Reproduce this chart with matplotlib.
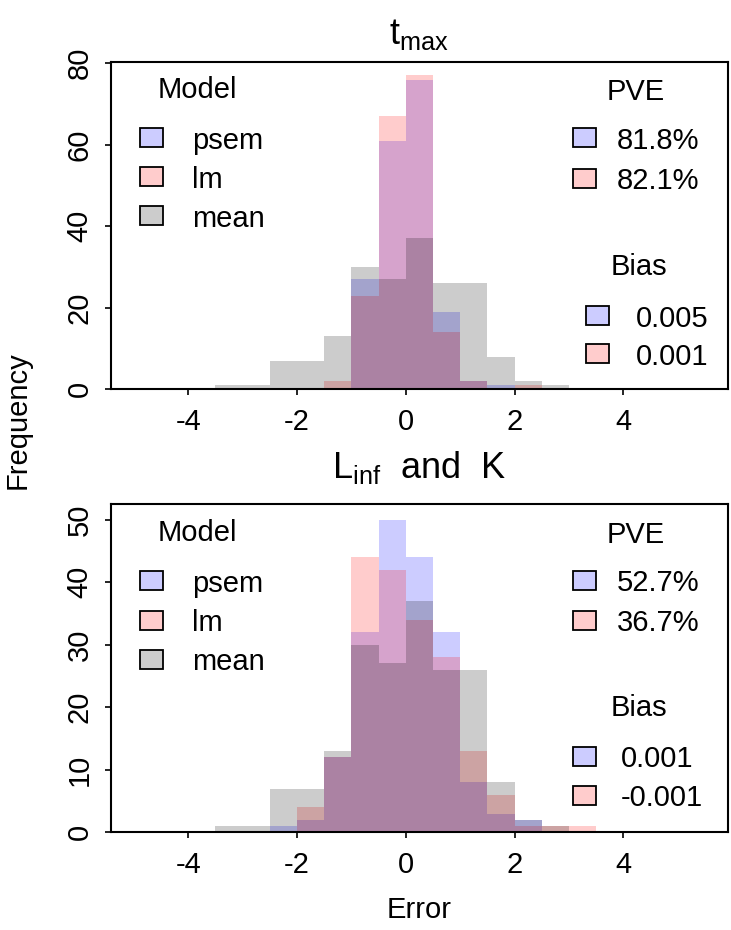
import matplotlib
matplotlib.use('Agg')
import matplotlib.pyplot as plt
from matplotlib.patches import Rectangle

W, H = 731, 930
plt.rcParams['font.family'] = ['Liberation Sans', 'DejaVu Sans']
plt.rcParams['mathtext.fontset'] = 'custom'
plt.rcParams['mathtext.rm'] = 'Liberation Sans'
plt.rcParams['mathtext.it'] = 'Liberation Sans:italic'

# ---- data ----
bin_edges = [-3.5, -3.0, -2.5, -2.0, -1.5, -1.0, -0.5, 0.0, 0.5, 1.0, 1.5, 2.0, 2.5, 3.0, 3.5]
models = ['psem', 'lm', 'mean']

tmax_psem = [0, 0, 0, 0, 0, 27, 61, 76, 19, 2, 1, 0, 0, 0]
tmax_lm   = [0, 0, 0, 0, 2, 23, 67, 77, 14, 2, 0, 1, 0, 0]
tmax_mean = [1, 1, 7, 7, 13, 30, 27, 37, 26, 26, 8, 2, 1, 0]

lk_psem = [0, 0, 1, 2, 12, 32, 50, 44, 32, 8, 3, 2, 0, 0]
lk_lm   = [0, 0, 0, 4, 12, 44, 42, 34, 28, 13, 6, 1, 1, 1]
lk_mean = [1, 1, 7, 7, 13, 30, 27, 37, 26, 26, 8, 2, 1, 0]

tmax_pve = ['81.8%', '82.1%']
tmax_bias = ['0.005', '0.001']
lk_pve = ['52.7%', '36.7%']
lk_bias = ['0.001', '-0.001']

xticks = [-4, -2, 0, 2, 4]
tmax_yticks = [0, 20, 40, 60, 80]
lk_yticks = [0, 10, 20, 30, 40, 50]

colors = {'psem': (0, 0, 1, 0.2), 'lm': (1, 0, 0, 0.2), 'mean': (0, 0, 0, 0.2)}

fig = plt.figure(figsize=(W / 100, H / 100), dpi=100)

def fx(x):
    return x / W

def fy(y):
    return 1 - y / H

FS = 21

def make_axes(top, bottom, counts, yticks, ylim):
    ax = fig.add_axes([fx(111), fy(bottom), (727.7 - 111) / W, (bottom - top) / H])
    lefts = bin_edges[:-1]
    widths = [b - a for a, b in zip(bin_edges[:-1], bin_edges[1:])]
    for m in models:
        ax.bar(lefts, counts[m], width=widths, align='edge', color=colors[m], linewidth=0)
    ax.set_xlim(-5.42, 5.92)
    ax.set_ylim(0, ylim)
    ax.set_xticks(xticks)
    ax.set_xticklabels([str(t) if t >= 0 else '-' + str(-t) for t in xticks])
    ax.set_yticks(yticks)
    ax.tick_params(direction='out', length=4.5, width=1.2, labelsize=FS, pad=9)
    ax.tick_params(axis='y', labelrotation=90, pad=8)
    for lab in ax.get_yticklabels():
        lab.set_va('center')
    for s in ax.spines.values():
        s.set_linewidth(1.5)
    return ax

ax1 = make_axes(62, 389.3, {'psem': tmax_psem, 'lm': tmax_lm, 'mean': tmax_mean}, tmax_yticks, 80.3)
ax2 = make_axes(504, 832.3, {'psem': lk_psem, 'lm': lk_lm, 'mean': lk_mean}, lk_yticks, 52.5)

def square(xl, yc, color):
    w, h = 23, 19
    fig.patches.append(Rectangle((fx(xl), fy(yc + h / 2)), w / W, h / H,
                                 transform=fig.transFigure, facecolor=color,
                                 edgecolor='black', linewidth=1.3))

def legend(title, title_xc, title_y, labels, cols, sq_x, txt_x, y0, dy=39):
    fig.text(fx(title_xc), fy(title_y), title, fontsize=FS, ha='center', va='center')
    for i, (lab, c) in enumerate(zip(labels, cols)):
        yc = y0 + i * dy
        square(sq_x, yc, colors[c])
        fig.text(fx(txt_x), fy(yc), lab, fontsize=FS, ha='left', va='center_baseline')

# top panel legends
legend('Model', 197, 90, models, models, 140, 192, 138)
legend('PVE', 636, 92, tmax_pve, ['psem', 'lm'], 573, 617, 138, 40)
legend('Bias', 639, 267, tmax_bias, ['psem', 'lm'], 586, 636, 316, 38)
# bottom panel legends
legend('Model', 197, 533, models, models, 140, 192, 581)
legend('PVE', 636, 535, lk_pve, ['psem', 'lm'], 573, 617, 580, 40)
legend('Bias', 639, 708, lk_bias, ['psem', 'lm'], 573, 621, 756, 39)

fig.text(fx(419), fy(34), r'$\mathrm{t_{max}}$', fontsize=26, ha='center', va='center')
fig.text(fx(419), fy(468), r'$\mathrm{L_{inf}}$  and  K', fontsize=26, ha='center', va='center')
fig.text(fx(18), fy(420), 'Frequency', fontsize=FS, rotation=90, ha='center', va='center')
fig.text(fx(419), fy(910), 'Error', fontsize=FS, ha='center', va='center')

fig.savefig('out.png', dpi=100)
